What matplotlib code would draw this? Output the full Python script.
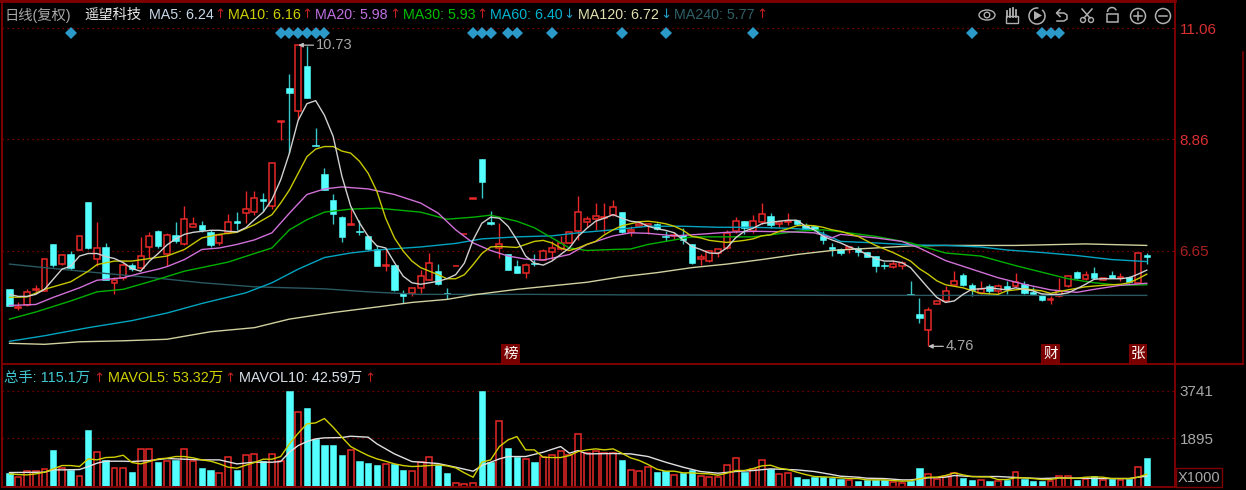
#! /usr/bin/env python3
"""K-line chart with moving averages and a volume panel."""

import numpy as np
import matplotlib
matplotlib.use('Agg')
import matplotlib.pyplot as plt
from matplotlib.patches import Circle, Ellipse, Rectangle, Arc, Polygon

plt.rcParams['font.family'] = ['Liberation Sans', 'Noto Sans CJK SC', 'DejaVu Sans']

# price data, one entry per trading day
opens = [5.90,5.51,5.57,5.88,5.86,6.79,6.39,6.60,6.67,7.63,
         6.50,6.73,6.02,6.11,6.37,6.31,6.73,7.04,6.59,6.96,
         6.79,7.13,7.16,7.03,6.81,7.01,7.24,7.40,7.42,7.68,
         7.55,9.21,9.88,9.43,10.32,8.76,8.18,7.67,7.32,7.17,
         7.04,6.94,6.69,6.36,6.38,5.82,5.81,5.92,6.08,6.25,
         5.82,6.35,6.98,7.69,8.47,7.22,6.70,6.59,6.35,6.21,
         6.41,6.48,6.63,6.68,6.81,7.05,7.22,7.29,7.30,7.37,
         7.43,7.03,7.14,7.14,7.19,6.95,6.94,6.96,6.79,6.50,
         6.45,6.61,6.70,7.04,7.24,7.04,7.22,7.34,7.18,7.23,
         7.26,7.17,7.14,6.95,6.72,6.68,6.68,6.71,6.63,6.55,
         6.37,6.33,6.35,5.80,5.41,5.08,5.60,5.66,5.98,6.18,
         5.97,5.81,5.96,5.85,5.96,5.96,5.99,5.84,5.77,5.67,
         5.75,5.96,6.23,6.09,6.21,6.07,6.17,6.12,6.14,6.02,6.57]
closes = [5.55,5.54,5.84,5.90,6.50,6.38,6.57,6.31,6.94,6.71,
          6.71,6.07,6.08,6.38,6.30,6.56,6.94,6.75,6.97,6.84,
          7.29,7.19,7.07,6.77,6.96,7.23,7.20,7.48,7.70,7.65,
          8.39,9.23,9.79,10.73,9.69,8.73,7.86,7.39,6.92,7.19,
          7.02,6.69,6.35,6.38,5.88,5.75,5.92,6.15,6.41,5.99,
          5.80,6.36,6.99,7.70,8.01,7.19,6.78,6.28,6.21,6.37,
          6.39,6.64,6.71,6.81,7.03,7.43,7.29,7.34,7.32,7.53,
          7.03,7.07,7.19,7.18,7.09,6.93,6.97,6.87,6.41,6.53,
          6.64,6.68,7.01,7.24,7.10,7.24,7.39,7.17,7.22,7.24,
          7.19,7.09,7.06,6.86,6.69,6.61,6.72,6.63,6.54,6.36,
          6.35,6.40,6.42,5.78,5.32,5.48,5.66,5.86,6.05,5.97,
          5.88,5.90,5.85,5.96,5.89,6.04,5.81,5.79,5.67,5.69,
          5.86,6.15,6.11,6.17,6.11,6.12,6.12,6.14,6.04,6.61,6.54]
highs = [5.90,5.63,5.90,5.98,6.50,6.79,6.60,6.65,6.94,7.63,
         7.22,6.80,6.13,6.42,6.42,6.92,7.02,7.06,7.01,7.22,
         7.54,7.32,7.24,7.07,6.99,7.39,7.42,7.83,7.83,7.80,
         8.39,9.23,10.15,10.73,10.72,9.08,8.30,7.77,7.34,7.50,
         7.26,6.96,6.77,6.71,6.38,5.88,5.92,6.28,6.61,6.39,
         5.92,6.36,6.99,7.70,8.47,7.45,7.20,6.59,6.48,6.41,
         6.60,6.68,6.84,6.94,7.03,7.73,7.35,7.60,7.60,7.66,
         7.43,7.14,7.24,7.20,7.20,7.04,7.03,7.10,6.79,6.60,
         6.66,6.69,7.07,7.32,7.24,7.37,7.61,7.41,7.27,7.41,
         7.27,7.20,7.14,7.04,6.81,6.71,6.75,6.75,6.63,6.55,
         6.43,6.48,6.45,6.05,5.71,5.53,5.66,5.96,6.25,6.22,
         6.01,6.05,5.99,5.99,6.05,6.21,6.05,5.94,5.79,5.76,
         6.11,6.18,6.26,6.25,6.33,6.12,6.26,6.21,6.15,6.61,6.61]
lows = [5.55,5.48,5.56,5.84,5.86,6.33,6.38,6.27,6.67,6.68,
        6.36,6.07,5.79,6.07,6.25,6.29,6.52,6.71,6.35,6.81,
        6.76,7.12,7.03,6.73,6.77,6.98,7.06,7.21,7.37,7.44,
        7.49,8.85,8.59,9.24,9.69,8.73,7.86,7.19,6.82,7.17,
        6.96,6.67,6.35,6.25,5.86,5.61,5.76,5.82,6.07,5.97,
        5.69,6.35,6.98,7.69,7.71,7.16,6.51,6.27,6.21,6.11,
        6.36,6.47,6.48,6.66,6.81,6.87,7.12,7.07,7.01,7.34,
        7.01,6.95,7.12,6.99,7.06,6.84,6.89,6.78,6.40,6.38,
        6.43,6.53,6.69,7.01,6.99,7.01,7.19,7.10,7.12,7.17,
        7.17,7.06,7.04,6.78,6.56,6.58,6.61,6.55,6.54,6.23,
        6.30,6.32,6.30,5.78,5.22,4.76,5.60,5.64,5.97,5.96,
        5.75,5.79,5.79,5.79,5.79,5.94,5.80,5.78,5.65,5.59,
        5.74,5.94,6.09,6.07,6.09,6.07,6.11,6.06,6.01,6.01,6.40]

# volume in units of 1000 lots
volume = [543,388,621,621,711,1448,750,672,440,2237,
          1358,1060,763,763,582,1487,1487,970,1009,1060,
          1487,1034,737,672,569,1164,672,1241,1293,1034,
          1293,1034,3741,2909,3064,1875,1655,1655,1267,1448,
          1009,931,879,905,905,685,621,996,1164,879,
          543,181,129,181,3741,970,2560,1513,1190,1099,
          970,1164,1254,1396,1254,2069,1319,1396,1319,1319,
          1073,672,621,776,582,621,478,543,685,453,
          388,388,866,1151,608,711,1060,711,517,569,
          388,336,414,414,349,310,284,259,284,284,
          284,220,168,259,737,517,310,453,569,362,
          297,284,259,233,284,582,310,246,246,259,
          427,427,297,310,427,284,323,297,336,776,1151]
mavol5 = [517,491,478,517,582,711,840,840,802,1099,
          1060,1151,1164,1241,957,905,996,1099,1125,1190,
          1190,1138,1060,1009,905,776,737,853,957,1086,
          1086,1190,1681,2095,2457,2495,2664,2327,1940,1577,
          1396,1228,1099,1009,905,840,802,815,840,866,
          828,750,556,388,970,1060,1577,1836,1965,1448,
          1448,1164,1151,1151,1228,1384,1448,1487,1448,1487,
          1319,1138,1034,879,698,621,621,556,556,530,
          517,465,543,647,647,724,828,853,737,685,
          582,491,414,401,388,362,336,336,284,284,
          284,259,233,246,323,388,388,453,556,478,
          414,401,401,297,297,362,362,336,297,297,
          362,349,349,388,401,388,336,336,336,388,504]
mavol10_idx = [0,4,5,6,8,9,10,11,13,14,16,18,20,22,24,26,28,30,31,32,33,34,35,36,38,39,41,42,44,46,
               47,49,51,53,54,56,57,59,61,63,64,65,66,69,71,73,75,77,79,81,83,85,87,90,92,94,
               95,97,98,100,102,103,105,107,108,110,113,116,118,120,125,128,129,130]
mavol10 = [569,582,672,672,685,802,931,1009,1009,996,1034,1112,1086,1060,1060,905,970,970,996,1358,1616,1771,1875,1914,1927,1978,1940,1681,1293,996,
           970,918,776,621,840,1099,1190,1190,1358,1577,1319,1422,1293,1306,1293,1190,970,776,608,543,608,647,711,672,608,491,
           427,388,349,336,284,284,362,388,453,414,414,362,336,362,336,336,388,426]

ma5 = [5.79,5.75,5.75,5.79,5.89,6.09,6.29,6.35,6.55,6.60,
       6.60,6.54,6.50,6.42,6.30,6.25,6.45,6.60,6.77,6.89,
       6.98,7.02,7.04,7.06,7.06,7.04,7.03,7.11,7.27,7.42,
       7.67,8.06,8.59,9.24,9.57,9.63,9.34,8.92,8.13,7.54,
       7.21,6.94,6.75,6.71,6.42,6.15,6.02,5.99,6.02,6.05,
       6.10,6.18,6.41,6.87,7.20,7.32,7.30,7.14,6.87,6.55,
       6.41,6.37,6.45,6.58,6.71,6.94,7.10,7.24,7.30,7.37,
       7.30,7.24,7.22,7.14,7.09,7.06,7.01,6.87,6.74,6.68,
       6.61,6.60,6.71,6.91,7.04,7.10,7.19,7.22,7.24,7.26,
       7.26,7.14,7.07,6.94,6.87,6.81,6.73,6.67,6.58,6.50,
       6.45,6.45,6.42,6.32,6.12,5.92,5.73,5.63,5.66,5.79,
       5.89,5.90,5.92,5.90,5.88,5.92,5.89,5.86,5.80,5.79,
       5.79,5.82,5.90,5.99,6.09,6.10,6.10,6.10,6.12,6.19,6.27]
ma10_idx = [0,2,4,6,7,9,10,12,14,16,18,20,22,24,26,28,30,31,32,33,34,35,36,37,38,39,40,41,42,43,44,45,46,
            47,48,49,50,51,52,53,54,55,56,57,58,59,60,61,62,63,64,65,66,67,68,69,70,71,72,73,74,75,76,77,78,79,
            80,81,82,83,84,85,86,87,88,89,90,91,92,93,94,
            95,97,99,101,103,104,105,106,107,109,111,113,114,116,118,119,121,123,125,127,128,129,130]
ma10 = [5.73,5.74,5.89,5.99,6.04,6.25,6.38,6.45,6.45,6.50,6.55,6.68,6.91,6.98,7.02,7.17,7.37,7.60,7.86,8.19,8.52,8.67,8.72,8.72,8.63,8.59,8.43,8.19,7.83,7.30,6.91,6.65,6.45,
        6.32,6.25,6.18,6.10,6.10,6.18,6.38,6.60,6.73,6.74,6.73,6.72,6.78,6.84,6.86,6.81,6.71,6.66,6.71,6.78,6.84,6.97,7.07,7.15,7.19,7.23,7.24,7.22,7.19,7.14,7.06,6.94,6.91,
        6.86,6.84,6.82,6.84,6.86,6.89,6.95,6.97,7.04,7.09,7.15,7.16,7.15,7.12,7.07,
        7.04,6.94,6.76,6.62,6.45,6.30,6.19,6.06,5.98,5.92,5.81,5.79,5.86,5.90,5.86,5.81,5.88,5.94,5.97,5.99,6.02,6.10,6.19]
ma20_idx = [0,3,5,8,10,13,15,17,18,20,22,24,26,28,30,32,34,36,38,41,44,47,
            49,51,53,55,57,59,61,64,66,69,71,73,76,78,82,85,89,92,94,
            95,99,102,104,107,110,113,116,119,122,124,127,130]
ma20 = [5.57,5.59,5.73,5.92,6.07,6.12,6.21,6.29,6.34,6.48,6.68,6.71,6.78,6.87,7.01,7.40,7.77,7.88,7.92,7.88,7.77,7.60,
        7.40,7.07,6.81,6.66,6.55,6.49,6.47,6.58,6.78,6.95,7.01,7.00,6.95,6.97,7.02,7.04,7.03,7.01,6.91,
        6.98,6.91,6.84,6.71,6.46,6.29,6.12,5.99,5.88,5.83,5.89,5.97,6.01]
ma30_idx = [0,3,7,10,13,17,20,25,28,30,32,34,36,39,42,47,
            50,53,55,58,60,62,64,66,69,71,73,75,78,81,85,87,90,93,
            95,99,103,107,111,115,118,121,124,127,130]
ma30 = [5.30,5.44,5.66,5.84,5.89,6.09,6.25,6.43,6.60,6.71,7.07,7.27,7.42,7.48,7.50,7.42,
        7.28,7.32,7.36,7.24,7.11,6.91,6.71,6.66,6.68,6.69,6.78,6.84,6.93,6.93,6.93,6.97,7.04,7.07,
        7.03,6.94,6.81,6.61,6.55,6.36,6.23,6.10,6.02,5.97,5.98]
ma60_idx = [0,4,9,14,18,22,27,30,33,36,39,42,47,
            51,54,58,62,65,69,73,77,81,85,89,92,
            95,99,103,107,111,114,118,122,126,130]
ma60 = [4.86,4.97,5.13,5.27,5.42,5.61,5.82,6.02,6.29,6.52,6.61,6.67,6.73,
        6.80,6.89,6.93,6.95,7.01,7.07,7.14,7.14,7.12,7.12,7.10,7.07,
        6.84,6.81,6.77,6.76,6.73,6.67,6.62,6.56,6.48,6.44]
ma120_idx = [0,4,8,13,18,23,28,32,37,42,46,50,53,58,66,70,74,78,82,86,90,94,99,103,107,115,123,130]
ma120 = [4.82,4.80,4.85,4.87,4.90,5.05,5.13,5.30,5.43,5.54,5.63,5.69,5.78,5.89,6.03,6.14,6.22,6.32,6.39,6.48,6.58,6.66,6.71,6.75,6.76,6.76,6.79,6.76]
ma240_idx = [0,4,10,17,22,28,36,41,47,60,70,95,130]
ma240 = [6.39,6.32,6.22,6.11,6.02,5.94,5.90,5.84,5.79,5.79,5.78,5.77,5.77]

# days with a blue diamond and days with a letter flag
diamond_days = [7,31,32,33,34,35,36,53,54,55,57,58,62,70,75,85,110,118,119,120]
flag_days = [57.3,119,129]
flag_texts = ['榜','财','张']

price_ticks = [11.06,8.86,6.65]
vol_ticks = [3741,1895]

RED = '#e82828'
CYAN = '#54ffff'
CYAN_WICK = '#38c8c8'
BORDER = '#7e0000'
GRID = '#9a0000'
GREY = '#a8a8a8'
MA_COLORS = {'ma5': '#d0d0d0', 'ma10': '#c8c800', 'ma20': '#d070d8', 'ma30': '#00b000',
             'ma60': '#00a4c0', 'ma120': '#d0d0a0', 'ma240': '#2a5860'}

W, H = 1246, 490
fig = plt.figure(figsize=(W/100, H/100), dpi=100, facecolor='black')


def pixel_axes(left, top, right, bottom):
    # Achse ueber Pixelgrenzen anlegen
    ax = fig.add_axes([left/W, 1-bottom/H, (right-left)/W, (bottom-top)/H])
    ax.set_facecolor('black')
    for s in ax.spines.values():
        s.set_color(BORDER)
        s.set_linewidth(1.4)
    ax.set_xticks([])
    return ax


days = np.arange(len(opens))
op = np.array(opens)
cl = np.array(closes)
up = cl >= op

x_left = (2.5-9.5)/8.748
x_right = (1175.3-9.5)/8.748

# price panel
ax = pixel_axes(2.5, 1.5, 1175.3, 364)
ax.set_xlim(x_left, x_right)
ax.set_ylim(11.06-(364-28.5)/50.45, 11.06+(28.5-1.5)/50.45)
ax.set_yticks(price_ticks)
ax.set_yticklabels(['11.06','8.86','6.65'], fontsize=11)
ax.yaxis.tick_right()
ax.tick_params(axis='y', length=0, pad=3)
for lab, col in zip(ax.get_yticklabels(), ['#d83030','#d83030','#a82020']):
    lab.set_color(col)
for t in price_ticks:
    ax.axhline(t, color=GRID, lw=0.9, ls=(0, (1, 3)), zorder=1)

ax.vlines(days[up], np.array(lows)[up], np.array(highs)[up], color=RED, lw=1.0, zorder=2)
ax.vlines(days[~up], np.array(lows)[~up], np.array(highs)[~up], color=CYAN_WICK, lw=1.0, zorder=2)
ax.bar(days[up], (cl-op)[up], bottom=op[up], width=0.68, facecolor='black', edgecolor=RED, lw=1.1, zorder=3)
ax.bar(days[~up], (op-cl)[~up], bottom=cl[~up], width=0.74, facecolor=CYAN, edgecolor=CYAN, lw=0.4, zorder=3)

ax.plot(ma240_idx, ma240, color=MA_COLORS['ma240'], lw=1.0, zorder=4)
ax.plot(ma120_idx, ma120, color=MA_COLORS['ma120'], lw=1.0, zorder=4)
ax.plot(ma60_idx, ma60, color=MA_COLORS['ma60'], lw=1.0, zorder=4)
ax.plot(ma30_idx, ma30, color=MA_COLORS['ma30'], lw=1.0, zorder=4)
ax.plot(ma20_idx, ma20, color=MA_COLORS['ma20'], lw=1.0, zorder=4)
ax.plot(ma10_idx, ma10, color=MA_COLORS['ma10'], lw=1.0, zorder=4)
ax.plot(days, ma5, color=MA_COLORS['ma5'], lw=1.0, zorder=4)

# extreme price labels
hi = int(np.argmax(highs))
lo = int(np.argmin(lows))
for day, val, txt in [(hi, highs[hi], '10.73'), (lo, lows[lo], '4.76')]:
    ax.annotate(txt, xy=(day, val), xytext=(13, 0), textcoords='offset points', va='center',
                color='#a8a8a8', fontsize=10.5, zorder=6,
                arrowprops=dict(arrowstyle='-|>,head_width=0.12,head_length=0.25', color='#c0c0c0', lw=0.9,
                                shrinkA=0, shrinkB=0))

tr = ax.get_xaxis_transform()
ax.plot(diamond_days, [0.9135]*len(diamond_days), ls='none', marker='D', ms=6, color='#2b9ac9', mew=0,
        transform=tr, zorder=5)
for day, txt in zip(flag_days, flag_texts):
    ax.text(day, 0.029, txt, transform=tr, ha='center', va='center', color='white', fontsize=10.5, zorder=6,
            bbox=dict(facecolor='#7a0000', edgecolor='none', pad=1.5))

# volume panel
axv = pixel_axes(2.5, 364, 1175.3, 487.2)
axv.set_xlim(x_left, x_right)
axv.set_ylim(0, (487.2-364)*38.8)
axv.set_yticks(vol_ticks)
axv.set_yticklabels(['3741','1895'], fontsize=11, color=GREY)
axv.yaxis.tick_right()
axv.tick_params(axis='y', length=0, pad=3)
for t in vol_ticks:
    axv.axhline(t, color=GRID, lw=0.9, ls=(0, (1, 3)), zorder=1)
vol = np.array(volume)
axv.bar(days[up], vol[up], width=0.68, facecolor='black', edgecolor=RED, lw=1.1, zorder=2)
axv.bar(days[~up], vol[~up], width=0.74, facecolor=CYAN, edgecolor=CYAN, lw=0.4, zorder=2)
axv.plot(mavol10_idx, mavol10, color='#e0e0e0', lw=1.0, zorder=3)
axv.plot(days, mavol5, color='#d0d000', lw=1.0, zorder=3)

# overlay in pixel coordinates: legends, frame and toolbar
ov = fig.add_axes([0, 0, 1, 1], zorder=10)
ov.set_xlim(0, W)
ov.set_ylim(H, 0)
ov.axis('off')

ov.plot([1243, 1243], [52, 364], color=BORDER, lw=1.2)
ov.plot([1175, 1243], [364, 364], color=BORDER, lw=1.6)
ov.plot([0, 1175], [1, 1], color=BORDER, lw=2.0)
ov.add_patch(Rectangle((1176, 468), 46, 19, fill=False, edgecolor=BORDER, lw=1.0))
ov.text(1178, 478, 'X1000', color=GREY, fontsize=10.5, va='center')

top_legend = [(4, '日线(复权)', '#a8a8a8'), (84, '遥望科技', '#e8e8e8'),
              (149, 'MA5: 6.24', '#c8d8e8'), (228, 'MA10: 6.16', '#d0d000'),
              (315, 'MA20: 5.98', '#c070e0'), (403, 'MA30: 5.93', '#00c000'),
              (490, 'MA60: 6.40', '#00b4d0'), (578, 'MA120: 6.72', '#e0e0b0'),
              (674, 'MA240: 5.77', '#2e6068')]
for x, txt, col in top_legend:
    ov.text(x, 15, txt, color=col, fontsize=10.3, va='center')
top_arrows = [(219.5, '↑', '#c02020'), (307, '↑', '#c02020'), (394.5, '↑', '#c02020'), (482, '↑', '#c02020'),
              (569, '↓', '#20a0c8'), (666, '↓', '#20a0c8'), (762, '↑', '#c02020')]
for x, txt, col in top_arrows:
    ov.text(x, 15, txt, color=col, fontsize=9.5, va='center', ha='center', family='DejaVu Sans')

bottom_legend = [(4, '总手: 115.1万', '#40c8d0'), (108, 'MAVOL5: 53.32万', '#d0d000'),
                 (239, 'MAVOL10: 42.59万', '#d8e0e8')]
for x, txt, col in bottom_legend:
    ov.text(x, 378, txt, color=col, fontsize=10.4, va='center')
bottom_arrows = [(99, '↑', '#c02020'), (230, '↑', '#c02020'), (370, '↑', '#c02020')]
for x, txt, col in bottom_arrows:
    ov.text(x, 378, txt, color=col, fontsize=9.5, va='center', ha='center', family='DejaVu Sans')

# toolbar icons
ICON = '#b0b0b0'
ov.add_patch(Ellipse((987, 15), 16, 10, fill=False, edgecolor=ICON, lw=1.0))
ov.add_patch(Circle((987, 15), 2.8, fill=False, edgecolor=ICON, lw=1.0))
for fx, ftop in [(1007, 11), (1010, 9), (1013, 8.5), (1016, 10)]:
    ov.plot([fx, fx], [ftop, 17], color=ICON, lw=1.3)
ov.add_patch(Rectangle((1006, 16), 12, 7, fill=False, edgecolor=ICON, lw=1.0))
ov.add_patch(Arc((1037, 16), 16, 16, theta1=-50, theta2=280, edgecolor=ICON, lw=1.1))
ov.add_patch(Polygon([(1034, 11), (1034, 20), (1042, 15.5)], facecolor=ICON, edgecolor='none'))
ov.plot([1057, 1064, 1067, 1067, 1064, 1057], [13, 13, 15, 19, 21, 21], color=ICON, lw=1.1)
ov.plot([1060, 1056.5, 1060], [9.5, 13, 16.5], color=ICON, lw=1.1)
ov.add_patch(Circle((1083, 20), 2.5, fill=False, edgecolor=ICON, lw=1.0))
ov.add_patch(Circle((1091, 20), 2.5, fill=False, edgecolor=ICON, lw=1.0))
ov.plot([1084, 1092], [18, 9], color=ICON, lw=1.1)
ov.plot([1090, 1082], [18, 9], color=ICON, lw=1.1)
ov.add_patch(Rectangle((1107, 14), 11, 8, fill=False, edgecolor=ICON, lw=1.1))
ov.add_patch(Arc((1112, 12), 9, 9, theta1=180, theta2=340, edgecolor=ICON, lw=1.1))
for cx, plus in [(1138, True), (1163, False)]:
    ov.add_patch(Circle((cx, 16), 7.5, fill=False, edgecolor=ICON, lw=1.1))
    ov.plot([cx-4, cx+4], [16, 16], color=ICON, lw=1.1)
    if plus:
        ov.plot([cx, cx], [12, 20], color=ICON, lw=1.1)

fig.savefig('out.png', dpi=100, facecolor='black')
